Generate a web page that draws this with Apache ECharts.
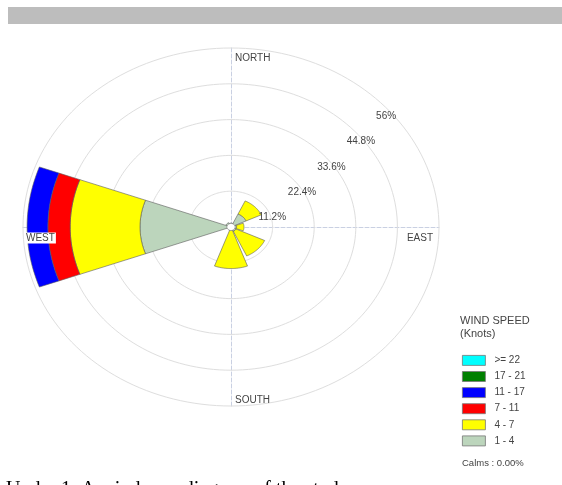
<!DOCTYPE html>
<html>
<head>
<meta charset="utf-8">
<script src="https://cdn.jsdelivr.net/npm/echarts@6/dist/echarts.min.js"></script>
<style>
html,body{margin:0;padding:0;background:#fff;overflow:hidden;}
#chart{width:562px;height:485px;}
</style>
</head>
<body>
<div id="chart"></div>
<script>
// ---- data ----
const directions = ['N', 'NE', 'E', 'SE', 'S', 'SW', 'W', 'NW'];
const bearings = [0, 45, 90, 135, 180, 225, 270, 315];
const speedBins = ['1 - 4', '4 - 7', '7 - 11', '11 - 17', '17 - 21', '>= 22'];
const binColors = ['#bcd5bc', '#ffff00', '#ff0000', '#0000ff', '#008000', '#00ffff'];
const freq_1_4   = [1.2, 4.5, 1.5, 1.5, 1.0, 1.0, 24.5, 1.5];
const freq_4_7   = [0.0, 4.5, 2.0, 8.5, 12.0, 0.0, 18.8, 0.0];
const freq_7_11  = [0, 0, 0, 0, 0, 0, 6.0, 0];
const freq_11_17 = [0, 0, 0, 0, 0, 0, 5.6, 0];
const freq_17_21 = [0, 0, 0, 0, 0, 0, 0, 0];
const freq_22    = [0, 0, 0, 0, 0, 0, 0, 0];
const ringValues = [11.2, 22.4, 33.6, 44.8, 56];
const ringLabels = ['11.2%', '22.4%', '33.6%', '44.8%', '56%'];
const compassLabels = ['NORTH', 'EAST', 'SOUTH', 'WEST'];
const calmsText = 'Calms : 0.00%';

const binFreqs = [freq_1_4, freq_4_7, freq_7_11, freq_11_17, freq_17_21, freq_22];
const MAXR = 56;
const HALF = 20;

function pt(api, r, deg) {
  const a = deg * Math.PI / 180;
  return api.coord([r * Math.sin(a), r * Math.cos(a)]);
}

function petal(params, api) {
  const i = api.value(0), r0 = api.value(1), r1 = api.value(2);
  const c = bearings[i];
  const pts = [];
  for (let a = c - HALF; a <= c + HALF + 1e-6; a += 1) pts.push(pt(api, r1, a));
  for (let a = c + HALF; a >= c - HALF - 1e-6; a -= 1) pts.push(pt(api, r0, a));
  return {
    type: 'polygon',
    shape: { points: pts },
    style: { fill: api.visual('color'), stroke: '#5a5a5a', lineWidth: 0.6 }
  };
}

const petalSeries = speedBins.map((name, b) => {
  const data = [];
  directions.forEach((d, i) => {
    let start = 0;
    for (let k = 0; k < b; k++) start += binFreqs[k][i];
    const v = binFreqs[b][i];
    if (v > 0) data.push([i, start, start + v]);
  });
  return {
    type: 'custom',
    name: name,
    coordinateSystem: 'cartesian2d',
    renderItem: petal,
    itemStyle: { color: binColors[b] },
    data: data,
    z: 5,
    silent: true
  };
});

const ringSeries = {
  type: 'custom',
  name: 'rings',
  coordinateSystem: 'cartesian2d',
  z: 1,
  silent: true,
  data: ringValues.map(v => [v]),
  renderItem: function (params, api) {
    const r = api.value(0);
    const pts = [];
    for (let a = 0; a <= 360; a += 2) pts.push(pt(api, r, a));
    return { type: 'polyline', shape: { points: pts }, style: { fill: null, stroke: '#dedede', lineWidth: 1 } };
  }
};

const ringLabelSeries = {
  type: 'custom',
  name: 'ringLabels',
  coordinateSystem: 'cartesian2d',
  z: 10,
  silent: true,
  data: ringValues.map(v => [v]),
  renderItem: function (params, api) {
    const p = pt(api, api.value(0), 45);
    return {
      type: 'text',
      x: p[0] - 2, y: p[1] + 16,
      style: { text: ringLabels[params.dataIndex], fill: '#444', font: '10px "Liberation Sans", Arial', align: 'left', verticalAlign: 'middle' }
    };
  }
};

const compassSeries = {
  type: 'custom',
  name: 'compass',
  coordinateSystem: 'cartesian2d',
  z: 10,
  silent: true,
  data: [[0], [90], [180], [270]],
  renderItem: function (params, api) {
    const deg = api.value(0);
    const p = pt(api, MAXR, deg);
    const txt = compassLabels[params.dataIndex];
    const st = { text: txt, fill: '#444', font: '10px "Liberation Sans", Arial', verticalAlign: 'middle' };
    let x = p[0], y = p[1];
    if (deg === 0) { x += 4; y += 10; st.align = 'left'; }
    else if (deg === 90) { x -= 6; y += 11; st.align = 'right'; }
    else if (deg === 180) { x += 4; y -= 6; st.align = 'left'; }
    else { x += 2; y += 11; st.align = 'left'; st.backgroundColor = '#ffffff'; st.padding = [1, 1, 0, 1]; }
    return { type: 'text', x: x, y: y, style: st };
  }
};

const calmSeries = {
  type: 'custom',
  name: 'calm',
  coordinateSystem: 'cartesian2d',
  z: 8,
  silent: true,
  data: [[1.1]],
  renderItem: function (params, api) {
    const r = api.value(0);
    const pts = [];
    for (let a = 0; a <= 360; a += 10) pts.push(pt(api, r, a));
    return { type: 'polygon', shape: { points: pts }, style: { fill: '#ffffff', stroke: '#777', lineWidth: 0.6 } };
  }
};

const chart = echarts.init(document.getElementById('chart'), null, { renderer: 'canvas' });
chart.setOption({
  animation: false,
  backgroundColor: '#ffffff',
  grid: { left: 23, top: 48, width: 416, height: 358, containLabel: false },
  xAxis: {
    type: 'value', min: -MAXR, max: MAXR,
    axisLine: { show: true, onZero: true, lineStyle: { color: '#c9d0e2', type: 'dashed', width: 1 } },
    axisTick: { show: false }, axisLabel: { show: false }, splitLine: { show: false }
  },
  yAxis: {
    type: 'value', min: -MAXR, max: MAXR,
    axisLine: { show: true, onZero: true, lineStyle: { color: '#c9d0e2', type: 'dashed', width: 1 } },
    axisTick: { show: false }, axisLabel: { show: false }, splitLine: { show: false }
  },
  legend: {
    orient: 'vertical',
    left: 457, top: 350,
    icon: 'rect',
    itemWidth: 23, itemHeight: 10, itemGap: 5.3,
    selectedMode: false,
    itemStyle: { borderColor: '#777', borderWidth: 0.8 },
    textStyle: { fontSize: 10, color: '#444', fontFamily: '"Liberation Sans", Arial', padding: [0, 0, 0, 4] },
    data: speedBins.slice().reverse()
  },
  graphic: [
    { type: 'rect', left: 8, top: 7, shape: { width: 554, height: 17 }, style: { fill: '#bdbdbd' }, silent: true },
    { type: 'text', left: 460, top: 315, style: { text: 'WIND SPEED', fill: '#444', font: '11px "Liberation Sans", Arial' } },
    { type: 'text', left: 460, top: 328, style: { text: '(Knots)', fill: '#444', font: '11px "Liberation Sans", Arial' } },
    { type: 'text', left: 462, top: 458, style: { text: calmsText, fill: '#444', font: '9.5px "Liberation Sans", Arial' } },
    { type: 'text', left: 6, top: 480, style: { text: 'Under 1. A wind rose diagram of the study area', fill: '#000', font: '20px "Liberation Serif", serif' } }
  ],
  series: [ringSeries].concat(petalSeries, [calmSeries, ringLabelSeries, compassSeries])
});
</script>
</body>
</html>
